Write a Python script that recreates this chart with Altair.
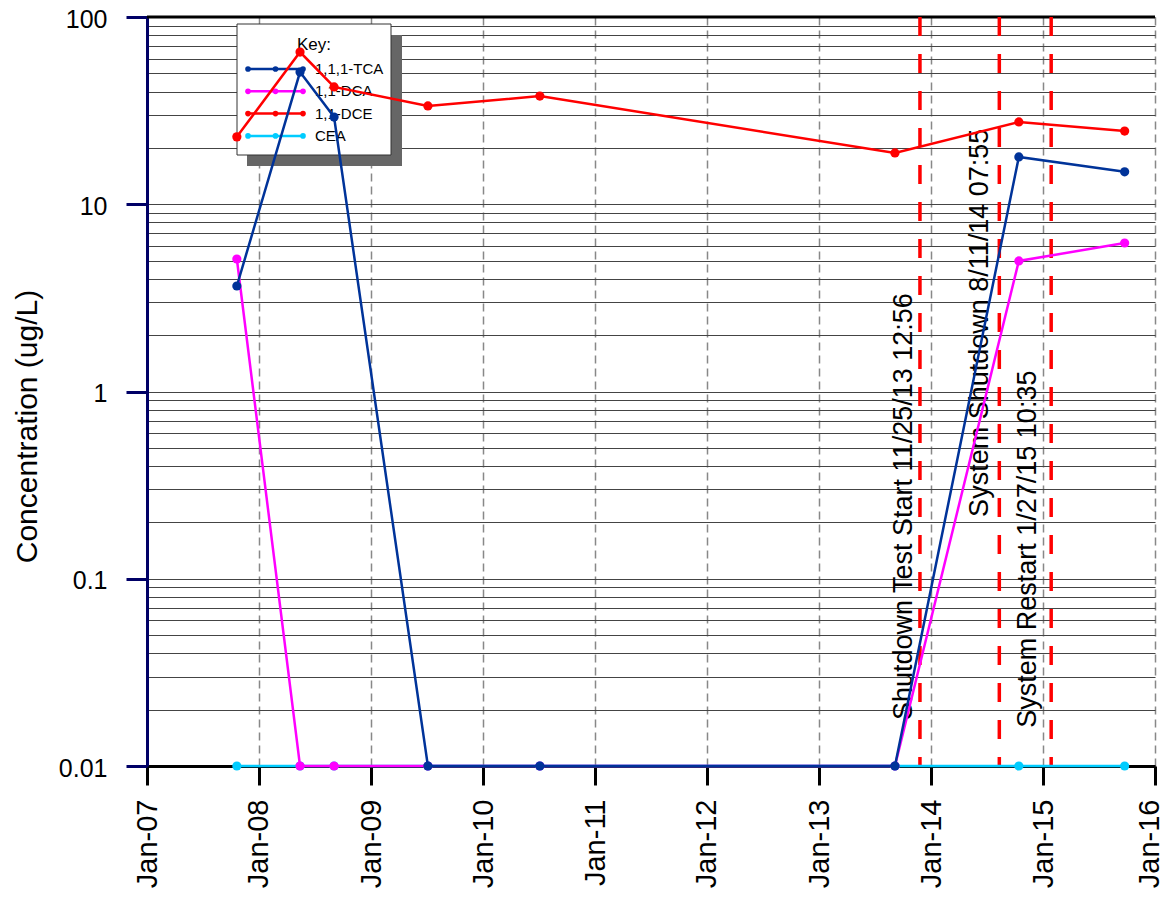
import altair as alt
import pandas as pd

# ---------------- data ----------------
dates = ["2007-10-21", "2008-05-14", "2008-09-02", "2009-07-05",
         "2010-07-05", "2013-09-05", "2014-10-14", "2015-09-24"]
tca = [3.66, 50.8, 29.2, 0.01, 0.01, 0.01, 17.9, 14.9]
dca = [5.1, 0.01, 0.01, 0.01, 0.01, 0.01, 4.98, 6.21]
dce = [22.9, 65.0, 42.3, 33.5, 37.8, 18.8, 27.5, 24.6]
cea = [0.01, 0.01, 0.01, 0.01, 0.01, 0.01, 0.01, 0.01]

series_names = ["1,1,1-TCA", "1,1-DCA", "1,1-DCE", "CEA"]
series_colors = ["#003399", "#ff00ff", "#ff0000", "#00ccff"]

event_dates = ["2013-11-25T12:56:00Z", "2014-08-11T07:55:00Z", "2015-01-27T10:35:00Z"]
event_labels = ["Shutdown Test Start 11/25/13 12:56",
                "System Shutdown 8/11/14 07:55",
                "System Restart 1/27/15 10:35"]
event_label_start = [0.0176, 0.214, 0.016]

year_ticks = list(range(2007, 2017))
decades = [0.01, 0.1, 1, 10, 100]

# ---------------- tables ----------------
values_by_series = [tca, dca, dce, cea]
rows = []
for name, vals in zip(series_names, values_by_series):
    for d, v in zip(dates, vals):
        rows.append({"date": d, "series": name, "value": v})
data = pd.DataFrame(rows)

events = pd.DataFrame({"date": event_dates, "label": event_labels, "value": event_label_start})
one = pd.DataFrame({"a": [0]})

grid_values = [m * d for d in decades[:-1] for m in range(1, 10)] + [decades[-1]]

W, H = 1008, 749
FONT = "Liberation Sans"
NAVY = "#000066"

IS_DECADE = "abs(log(datum.value)/LN10 - round(log(datum.value)/LN10)) < 0.001"
IS_LAST_YEAR = f"utcyear(datum.value) == {year_ticks[-1]}"

x_axis = alt.Axis(
    values=[alt.DateTime(year=y, month=1, date=1, utc=True) for y in year_ticks],
    format="%b-%y", labelAngle=270, labelFontSize=29, labelColor="black",
    labelFont=FONT, labelPadding=14, labelFlush=False, labelOverlap=False,
    labelBound=False,
    labelOffset={"condition": {"test": IS_LAST_YEAR, "value": -6}, "value": 0},
    grid=True, gridDash=[8, 5], gridColor="#888888", gridWidth=1.5,
    domainColor="black", domainWidth=3, tickColor="black", tickWidth=3,
    tickSize=19, title=None,
)
y_axis = alt.Axis(
    values=grid_values,
    labelExpr=f"({IS_DECADE}) ? format(datum.value, '') : ''",
    labelFontSize=25, labelColor="black", labelFont=FONT, labelPadding=19,
    labelFlush=False, labelOverlap=False, labelOffset=2,
    tickOpacity={"condition": {"test": IS_DECADE, "value": 1}, "value": 0},
    tickSize=21, tickWidth=3, tickColor=NAVY,
    domainColor=NAVY, domainWidth=3,
    grid=True, gridColor="#444444", gridWidth=1,
    title="Concentration (ug/L)", titleFontSize=30, titleFont=FONT,
    titleFontWeight="normal", titleColor="black", titleAngle=270,
    titleX=-111, titleY=409, titleAlign="center", titleBaseline="alphabetic",
)

X = alt.X("date:T", axis=x_axis,
          scale=alt.Scale(type="utc", domain=[
              alt.DateTime(year=year_ticks[0], month=1, date=1, utc=True),
              alt.DateTime(year=year_ticks[-1], month=1, date=1, utc=True)]))
Y = alt.Y("value:Q", axis=y_axis,
          scale=alt.Scale(type="log", domain=[decades[0], decades[-1]]))

# ---------------- legend (hand-made "Key:" box) ----------------
LEG_ROW0, LEG_STEP = 52, 22.3
LEG_DOTS = [101, 128.5, 156]
leg_rows = pd.DataFrame({
    "series": series_names, "colour": series_colors,
    "ly": [LEG_ROW0 + i * LEG_STEP for i in range(len(series_names))],
})
leg_rows["x0"] = LEG_DOTS[0]
leg_rows["x1"] = LEG_DOTS[-1]
leg_rows["tx"] = 168
leg_dots = leg_rows.loc[leg_rows.index.repeat(len(LEG_DOTS))].copy()
leg_dots["lx"] = LEG_DOTS * len(series_names)

shadow = alt.Chart(one).mark_rect(color="#666666").encode(
    x=alt.value(100), x2=alt.value(255), y=alt.value(18), y2=alt.value(149))
box = alt.Chart(one).mark_rect(fill="white", stroke="#333333", strokeWidth=1).encode(
    x=alt.value(90), x2=alt.value(244), y=alt.value(7), y2=alt.value(138))
key = alt.Chart(one).mark_text(text="Key:", fontSize=17, font=FONT, align="center",
                               baseline="middle", color="black").encode(
    x=alt.value(167), y=alt.value(28))
leg_lines = alt.Chart(leg_rows).mark_rule(strokeWidth=2.5).encode(
    x=alt.X("x0:Q", scale=None, axis=None), x2="x1:Q",
    y=alt.Y("ly:Q", scale=None, axis=None),
    color=alt.Color("colour:N", scale=None))
leg_points = alt.Chart(leg_dots).mark_circle(size=32, opacity=1).encode(
    x=alt.X("lx:Q", scale=None, axis=None),
    y=alt.Y("ly:Q", scale=None, axis=None),
    color=alt.Color("colour:N", scale=None))
leg_text = alt.Chart(leg_rows).mark_text(fontSize=15, font=FONT, align="left",
                                         baseline="middle", color="black").encode(
    x=alt.X("tx:Q", scale=None, axis=None),
    y=alt.Y("ly:Q", scale=None, axis=None),
    text="series:N")

# ---------------- frame and events ----------------
top_rule = alt.Chart(one).mark_rule(color="black", strokeWidth=3).encode(y=alt.datum(decades[-1]))

vrules = alt.Chart(events).mark_rule(color="#ff0000", strokeWidth=3.5,
                                     strokeDash=[19, 18]).encode(x=X)

label_dy = [-8, -11, -15]
ann_layers = []
for i in range(len(event_labels)):
    ann_layers.append(
        alt.Chart(events.iloc[[i]]).mark_text(
            angle=270, align="left", baseline="alphabetic", fontSize=27,
            font=FONT, color="black", dy=label_dy[i]
        ).encode(x=X, y=Y, text="label:N")
    )

# ---------------- data series ----------------
draw_order = ["CEA", "1,1-DCA", "1,1,1-TCA", "1,1-DCE"]
series_layers = []
for name in draw_order:
    c = series_colors[series_names.index(name)]
    series_layers.append(
        alt.Chart(data).transform_filter(alt.datum.series == name).mark_line(
            color=c, strokeWidth=2.5,
            point=alt.OverlayMarkDef(color=c, size=85, filled=True, opacity=1),
        ).encode(x=X, y=Y)
    )

chart = alt.layer(
    shadow, box, key, leg_lines, leg_points, leg_text,
    top_rule, vrules, *ann_layers, *series_layers,
).properties(
    width=W, height=H,
    autosize=alt.AutoSizeParams(type="none"),
    padding={"left": 139, "top": 9, "right": 5, "bottom": 123},
).configure(font=FONT).configure_view(stroke=None)

chart.save("out.html", embed_options={"renderer": "svg", "actions": False})
